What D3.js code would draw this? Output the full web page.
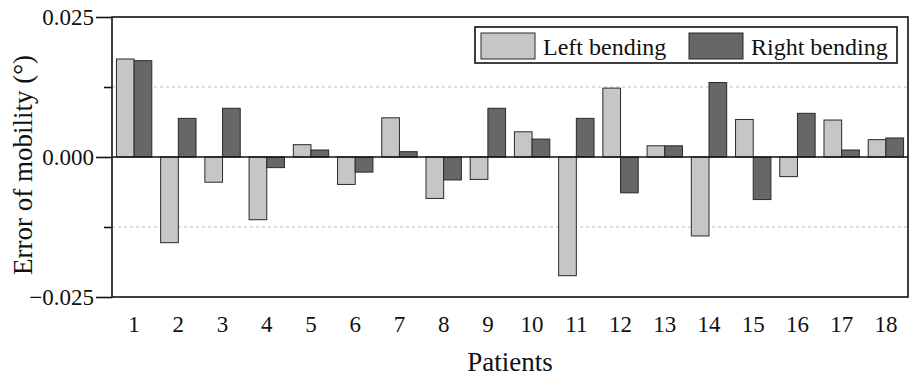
<!DOCTYPE html>
<html>
  <head>
    <meta charset="utf-8" />
    <style>
      body,
      html {
        margin: 0;
        padding: 0;
        background: #fff;
        overflow: hidden;
      }
      text {
        font-family: "Liberation Serif", "DejaVu Serif", serif;
        fill: #111;
      }
    </style>
    <script src="https://d3js.org/d3.v7.min.js"></script>
    <title>mobility error</title>
  </head>

  <body>
    <svg id="chart" width="913" height="380"></svg>

    <script>
      // data
      var patients = ["1", "2", "3", "4", "5", "6", "7", "8", "9", "10",
        "11", "12", "13", "14", "15", "16", "17", "18"];
      var leftBending = [0.0175, -0.0153, -0.0045, -0.0112, 0.0022, -0.0049,
        0.007, -0.0074, -0.004, 0.0045, -0.0212, 0.0123, 0.002, -0.0141,
        0.0067, -0.0035, 0.0066, 0.0031];
      var rightBending = [0.0172, 0.0069, 0.0087, -0.0019, 0.00125, -0.0027,
        0.00095, -0.0041, 0.0087, 0.0032, 0.0069, -0.0064, 0.002, 0.0133,
        -0.0076, 0.0078, 0.00125, 0.0034];
      var seriesNames = ["Left bending", "Right bending"];
      var seriesColors = ["#c6c6c6", "#676767"];
      var majorTicks = [-0.025, 0, 0.025];
      var minorTicks = [-0.0125, 0.0125];

      var svg = d3.select("#chart");
      var plotLeft = 112, plotRight = 908, plotTop = 17, plotBottom = 297;

      var x = d3.scaleBand()
        .domain(patients)
        .range([plotLeft, plotRight])
        .paddingInner(0.2)
        .paddingOuter(0.1);

      var x1 = d3.scaleBand()
        .domain(seriesNames)
        .range([0, x.bandwidth()]);

      var y = d3.scaleLinear()
        .domain([-0.025, 0.025])
        .range([plotBottom, plotTop]);

      var color = d3.scaleOrdinal().domain(seriesNames).range(seriesColors);

      // dashed grid at the minor ticks
      svg.append("g")
        .selectAll("line")
        .data(minorTicks)
        .enter()
        .append("line")
        .attr("x1", plotLeft)
        .attr("x2", plotRight)
        .attr("y1", function (d) { return y(d); })
        .attr("y2", function (d) { return y(d); })
        .style("stroke", "#bdbdbd")
        .style("stroke-width", "1px")
        .style("stroke-dasharray", "3 3");

      var rows = patients.map(function (p, i) {
        return { patient: p, values: [leftBending[i], rightBending[i]] };
      });

      var groups = svg.append("g")
        .selectAll("g")
        .data(rows)
        .enter()
        .append("g")
        .attr("transform", function (d) {
          return "translate(" + x(d.patient) + ",0)";
        });

      groups.selectAll("rect")
        .data(function (d) {
          return d.values.map(function (v, j) {
            return { name: seriesNames[j], value: v };
          });
        })
        .enter()
        .append("rect")
        .attr("x", function (d) { return x1(d.name); })
        .attr("width", x1.bandwidth())
        .attr("y", function (d) { return y(Math.max(0, d.value)); })
        .attr("height", function (d) { return Math.abs(y(d.value) - y(0)); })
        .style("fill", function (d) { return color(d.name); })
        .style("stroke", "#2a2a2a")
        .style("stroke-width", "1px");

      // zero line
      svg.append("line")
        .attr("x1", plotLeft)
        .attr("x2", plotRight)
        .attr("y1", y(0))
        .attr("y2", y(0))
        .style("stroke", "#111")
        .style("stroke-width", "1.6px");

      // frame
      svg.append("rect")
        .attr("x", plotLeft)
        .attr("y", plotTop)
        .attr("width", plotRight - plotLeft)
        .attr("height", plotBottom - plotTop)
        .style("fill", "none")
        .style("stroke", "#111")
        .style("stroke-width", "1.6px");

      // y axis
      var yAxis = svg.append("g")
        .attr("transform", "translate(" + plotLeft + ",0)")
        .call(d3.axisLeft(y).tickValues(majorTicks).tickSize(16).tickPadding(2)
          .tickFormat(d3.format(".3f")));
      yAxis.select(".domain").remove();
      yAxis.selectAll("line").style("stroke", "#111").style("stroke-width", "1.6px");
      yAxis.selectAll("text").style("font-size", "23px").attr("fill", "#111")
        .style("font-family", "Liberation Serif");

      var yMinor = svg.append("g")
        .attr("transform", "translate(" + plotLeft + ",0)")
        .call(d3.axisLeft(y).tickValues(minorTicks).tickSize(8).tickFormat(""));
      yMinor.select(".domain").remove();
      yMinor.selectAll("line").style("stroke", "#111").style("stroke-width", "1.6px");

      // x axis
      var xAxis = svg.append("g")
        .attr("transform", "translate(0," + plotBottom + ")")
        .call(d3.axisBottom(x).tickSize(0).tickPadding(19));
      xAxis.select(".domain").remove();
      xAxis.selectAll("text").style("font-size", "23px").attr("fill", "#111")
        .style("font-family", "Liberation Serif");

      // axis titles
      svg.append("text")
        .attr("x", (plotLeft + plotRight) / 2)
        .attr("y", 371)
        .attr("text-anchor", "middle")
        .style("font-size", "27px")
        .text("Patients");

      svg.append("text")
        .attr("transform", "translate(32," + 165 + ") rotate(-90)")
        .attr("text-anchor", "middle")
        .style("font-size", "27px")
        .text("Error of mobility (°)");

      // legend
      var legend = svg.append("g");
      legend.append("rect")
        .attr("x", 475)
        .attr("y", 27)
        .attr("width", 422)
        .attr("height", 36)
        .style("fill", "#fff")
        .style("stroke", "#111")
        .style("stroke-width", "1.6px");

      var legendX = [481, 689];
      var items = legend.selectAll("g.item")
        .data(seriesNames)
        .enter()
        .append("g")
        .attr("class", "item")
        .attr("transform", function (d, i) {
          return "translate(" + legendX[i] + ",33)";
        });
      items.append("rect")
        .attr("width", 54)
        .attr("height", 26)
        .style("fill", function (d) { return color(d); })
        .style("stroke", "#2a2a2a")
        .style("stroke-width", "1px");
      items.append("text")
        .attr("x", 62)
        .attr("y", 22)
        .style("font-size", "24px")
        .text(function (d) { return d; });
    </script>
  </body>
</html>
